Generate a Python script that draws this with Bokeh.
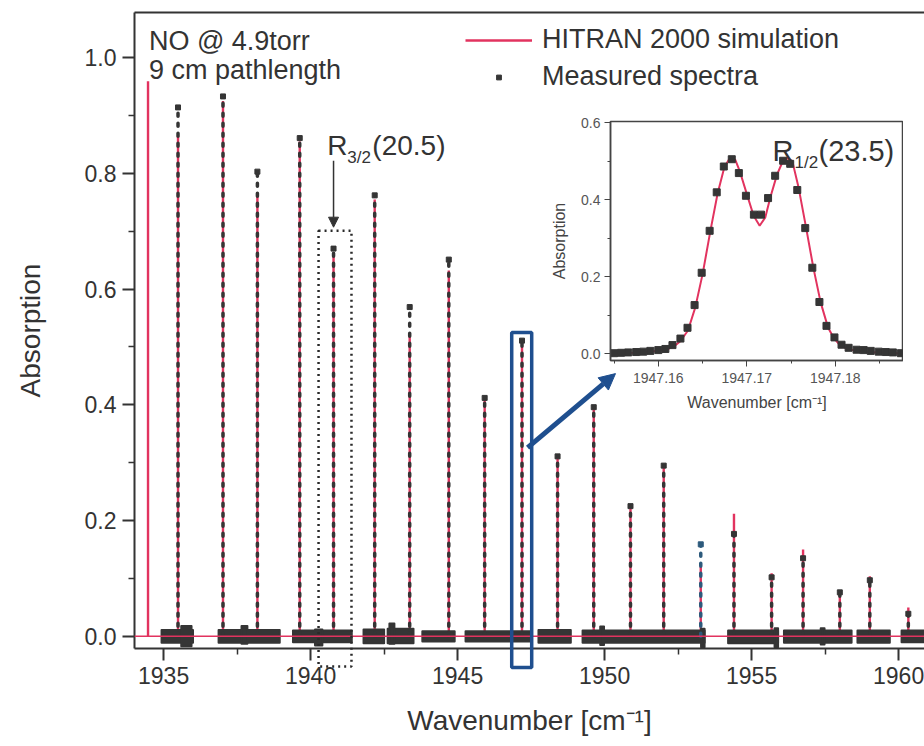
import math
from bokeh.plotting import figure
from bokeh.layouts import column
from bokeh.models import (Range1d, FixedTicker, LinearAxis, Span, BoxAnnotation, Arrow,
                          NormalHead, Label, Legend, LegendItem, ColumnDataSource)
from bokeh.embed import file_html
from bokeh.resources import INLINE

# ---------------- data ----------------
peak_pos = [1934.47, 1935.49, 1937.02, 1938.19, 1939.63, 1940.78, 1942.18, 1943.37,
            1944.70, 1945.92, 1947.19, 1948.40, 1949.63, 1950.88, 1952.01, 1953.27,
            1954.40, 1955.68, 1956.75, 1958.00, 1959.02, 1960.33]
sim_height = [0.959, 0.865, 0.925, 0.766, 0.855, 0.662, 0.755, 0.524, 0.632, 0.410,
              0.502, 0.308, 0.394, 0.224, 0.294, 0.120, 0.212, 0.109, 0.150, 0.070,
              0.104, 0.050]
meas_height = [float("nan"), 0.914, 0.933, 0.803, 0.861, 0.670, 0.762, 0.569, 0.651,
               0.412, 0.511, 0.311, 0.396, 0.225, 0.295, 0.159, 0.177, 0.102, 0.135,
               0.076, 0.097, 0.039]

noise_start = [1934.93, 1936.87, 1939.40, 1941.80, 1942.62, 1943.80, 1945.27, 1947.75,
               1949.25, 1954.20, 1956.10, 1958.60, 1960.10]
noise_end = [1936.00, 1938.95, 1941.40, 1942.50, 1943.50, 1944.90, 1947.50, 1948.85,
             1953.40, 1955.90, 1958.40, 1959.70, 1961.00]
noise_top = [0.011, 0.011, 0.010, 0.012, 0.013, 0.009, 0.009, 0.011, 0.010, 0.010,
             0.010, 0.010, 0.010]
noise_bottom = [-0.011, -0.011, -0.010, -0.012, -0.012, -0.009, -0.009, -0.011,
                -0.011, -0.012, -0.011, -0.011, -0.010]

bump_start = [1935.60, 1937.65, 1940.15, 1942.68, 1949.85, 1953.28, 1955.78, 1957.35]
bump_end = [1935.95, 1937.85, 1940.40, 1942.85, 1949.98, 1953.40, 1955.90, 1957.48]
bump_top = [0.018, 0.018, 0.012, 0.022, 0.017, 0.013, 0.014, 0.014]
bump_bottom = [-0.017, -0.013, -0.016, -0.013, -0.015, -0.019, -0.019, -0.014]

x_major = [1935, 1940, 1945, 1950, 1955, 1960]
x_minor = [1937.5, 1942.5, 1947.5, 1952.5, 1957.5]
x_labels = ["1935", "1940", "1945", "1950", "1955", "1960"]
y_major = [0.0, 0.2, 0.4, 0.6, 0.8, 1.0]
y_minor = [0.1, 0.3, 0.5, 0.7, 0.9]
y_labels = ["0.0", "0.2", "0.4", "0.6", "0.8", "1.0"]

# inset data
inset_meas_x = [1947.1550, 1947.1558, 1947.1566, 1947.1575, 1947.1583, 1947.1591,
                1947.1600, 1947.1608, 1947.1616, 1947.1625, 1947.1633, 1947.1641,
                1947.1649, 1947.1658, 1947.1666, 1947.1674, 1947.1683, 1947.1691,
                1947.1699, 1947.1708, 1947.1716, 1947.1724, 1947.1732, 1947.1741,
                1947.1749, 1947.1757, 1947.1766, 1947.1774, 1947.1782, 1947.1790,
                1947.1799, 1947.1807, 1947.1815, 1947.1824, 1947.1832, 1947.1840,
                1947.1849, 1947.1857, 1947.1865, 1947.1874]
inset_meas_y = [0.001, 0.002, 0.003, 0.004, 0.005, 0.007, 0.009, 0.012, 0.022, 0.039,
                0.067, 0.126, 0.210, 0.319, 0.419, 0.486, 0.505, 0.469, 0.410, 0.361,
                0.361, 0.404, 0.462, 0.501, 0.493, 0.425, 0.326, 0.223, 0.134, 0.072,
                0.042, 0.023, 0.015, 0.010, 0.009, 0.007, 0.005, 0.004, 0.003, 0.001]
inset_sim_x = [1947.15458, 1947.15721, 1947.15947, 1947.16098, 1947.16173, 1947.16249,
               1947.16335, 1947.16418, 1947.16501, 1947.16588, 1947.16670, 1947.16746,
               1947.16795, 1947.16832, 1947.16870, 1947.16919, 1947.17002, 1947.17077,
               1947.17145, 1947.17209, 1947.17266, 1947.17341, 1947.17409, 1947.17461,
               1947.17514, 1947.17586, 1947.17669, 1947.17751, 1947.17834, 1947.17917,
               1947.17981, 1947.18056, 1947.18169, 1947.18358, 1947.18546, 1947.18772]
inset_sim_y = [0.000, 0.002, 0.006, 0.011, 0.018, 0.032, 0.060, 0.120, 0.207, 0.318,
               0.416, 0.484, 0.503, 0.508, 0.503, 0.475, 0.413, 0.358, 0.332, 0.354,
               0.406, 0.465, 0.501, 0.508, 0.500, 0.430, 0.328, 0.224, 0.133, 0.068,
               0.041, 0.021, 0.010, 0.004, 0.002, 0.000]
inset_x_major = [1947.16, 1947.17, 1947.18]
inset_x_minor = [1947.155, 1947.165, 1947.175, 1947.185]
inset_x_labels = ["1947.16", "1947.17", "1947.18"]
inset_y_major = [0.0, 0.2, 0.4, 0.6]
inset_y_minor = [0.1, 0.3, 0.5]
inset_y_labels = ["0.0", "0.2", "0.4", "0.6"]

# ---------------- styles ----------------
PINK = "#e2335f"
DARK = "#353535"
BLUE = "#1f4f8f"
FONT = "Liberation Sans"
meas_colors = [DARK] * len(peak_pos)
meas_colors[15] = "#2d5a7c"

X_RANGE = Range1d(1934.01, 1960.88)
Y_TOP = 1.078
Y_BOTTOM = -0.021
MAIN_H, BORDER_TOP, BORDER_BOTTOM = 746, 12, 98

# ---------------- main figure ----------------
p = figure(width=924, height=MAIN_H, output_backend="svg", toolbar_location=None,
           x_range=X_RANGE, y_range=Range1d(Y_BOTTOM, Y_TOP),
           min_border_left=134, min_border_top=BORDER_TOP, min_border_bottom=BORDER_BOTTOM,
           min_border_right=0)
p.outline_line_color = None
p.grid.visible = False
p.background_fill_color = "white"

for ax in (p.xaxis[0], p.yaxis[0]):
    ax.axis_line_width = 2
    ax.axis_line_color = "#333333"
    ax.major_tick_line_color = "#333333"
    ax.major_tick_line_width = 2
    ax.minor_tick_line_color = "#333333"
    ax.minor_tick_line_width = 1.5
    ax.major_tick_in = 0
    ax.major_tick_out = 12
    ax.minor_tick_in = 0
    ax.minor_tick_out = 6
    ax.major_label_text_font = FONT
    ax.major_label_text_font_size = "23px"
    ax.major_label_text_color = "#333333"
    ax.axis_label_text_font = FONT
    ax.axis_label_text_font_size = "28px"
    ax.axis_label_text_font_style = "normal"
    ax.axis_label_text_color = "#333333"

p.xaxis[0].ticker = FixedTicker(ticks=x_major, minor_ticks=x_minor)
p.xaxis[0].major_label_overrides = dict(zip(x_major, x_labels))
p.xaxis[0].axis_label = "Wavenumber [cm⁻¹]"
p.xaxis[0].major_label_standoff = 6
p.xaxis[0].axis_label_standoff = 18
p.yaxis[0].ticker = FixedTicker(ticks=y_major, minor_ticks=y_minor)
p.yaxis[0].major_label_overrides = dict(zip(y_major, y_labels))
p.yaxis[0].axis_label = "Absorption"
p.yaxis[0].major_label_standoff = 6
p.yaxis[0].axis_label_standoff = 36

top_ax = LinearAxis(ticker=FixedTicker(ticks=[]), axis_line_width=2, axis_line_color="#333333",
                    major_tick_line_color=None, minor_tick_line_color=None)
p.add_layout(top_ax, "above")

# simulation zero line
p.add_layout(Span(location=0, dimension="width", line_color=PINK, line_width=1.5))

zeros = [0.0] * len(peak_pos)
sim_src = ColumnDataSource(dict(x=peak_pos, y0=zeros, y1=sim_height))
sim_r = p.segment(x0="x", y0="y0", x1="x", y1="y1", source=sim_src, line_color=PINK,
                  line_width=2.4)

# measured noise band
p.quad(left=noise_start, right=noise_end, top=noise_top, bottom=noise_bottom,
       fill_color=DARK, line_color=DARK, line_width=2, line_join="round")
p.quad(left=bump_start, right=bump_end, top=bump_top, bottom=bump_bottom,
       fill_color=DARK, line_color=DARK, line_width=2, line_join="round")

ok = [not math.isnan(h) for h in meas_height]
meas_src = ColumnDataSource(dict(x=[x for x, k in zip(peak_pos, ok) if k],
                                 y0=[0.0 for k in ok if k],
                                 y1=[h for h, k in zip(meas_height, ok) if k],
                                 c=[c for c, k in zip(meas_colors, ok) if k]))
p.segment(x0="x", y0="y0", x1="x", y1="y1", source=meas_src, line_color="c",
          line_width=3.5, line_dash="3 7", line_cap="round")
meas_r = p.scatter(x="x", y="y1", source=meas_src, marker="square", size=5,
                   fill_color="c", line_color="c")

legend = Legend(items=[LegendItem(label="HITRAN 2000 simulation", renderers=[sim_r]),
                       LegendItem(label="Measured spectra", renderers=[meas_r])],
                location=(331, 556), orientation="vertical", background_fill_alpha=0,
                border_line_color=None, padding=0, margin=0, spacing=6,
                glyph_width=67, glyph_height=12, label_height=31, label_standoff=10,
                label_text_font=FONT, label_text_font_size="27px", label_text_color="#333333")
p.add_layout(legend)

# annotations
p.add_layout(Label(x=1934.50, y=1.028, text="NO @ 4.9torr", text_font=FONT,
                   text_font_size="27px", text_color="#333333", text_baseline="alphabetic"))
p.add_layout(Label(x=1934.50, y=0.978, text="9 cm pathlength", text_font=FONT,
                   text_font_size="27px", text_color="#333333", text_baseline="alphabetic"))

p.add_layout(Label(x=1940.57, y=0.848, text="R", text_font=FONT, text_font_size="28px",
                   text_color="#333333", text_baseline="alphabetic"))
p.add_layout(Label(x=1940.57, y=0.848, x_offset=20, y_offset=-12, text="3/2", text_font=FONT,
                   text_font_size="17px", text_color="#333333", text_baseline="alphabetic"))
p.add_layout(Label(x=1940.57, y=0.848, x_offset=45, text="(20.5)", text_font=FONT,
                   text_font_size="28px", text_color="#333333", text_baseline="alphabetic"))

# ---------------- overlay (same data scale, taller frame so boxes may pass the axis) --------
OVER_H = 690
px_per_unit = (MAIN_H - BORDER_TOP - BORDER_BOTTOM) / (Y_TOP - Y_BOTTOM)
over = figure(width=924, height=OVER_H, output_backend="svg", toolbar_location=None,
              x_range=X_RANGE,
              y_range=Range1d(Y_TOP - (OVER_H - BORDER_TOP) / px_per_unit, Y_TOP),
              min_border_left=134, min_border_top=BORDER_TOP, min_border_bottom=0,
              min_border_right=0, x_axis_location=None, y_axis_location=None,
              styles={"position": "absolute", "left": "0px", "top": "0px"})
over.background_fill_alpha = 0
over.border_fill_alpha = 0
over.outline_line_color = None
over.grid.visible = False

over.add_layout(Arrow(x_start=1940.78, y_start=0.822, x_end=1940.78, y_end=0.707,
                      line_color="#333333", line_width=1.5,
                      end=NormalHead(size=10, fill_color="#333333", line_color="#333333")))
over.add_layout(BoxAnnotation(left=1940.27, right=1941.39, bottom=-0.052, top=0.701,
                              fill_alpha=0, line_alpha=1, line_color="#2a2a2a", line_width=2.5,
                              line_dash="2 4"))
over.add_layout(BoxAnnotation(left=1946.84, right=1947.52, bottom=-0.054, top=0.525,
                              fill_alpha=0, line_alpha=1, line_color=BLUE, line_width=3.5))
over.add_layout(Arrow(x_start=1947.38, y_start=0.326, x_end=1950.37, y_end=0.454,
                      line_color=BLUE, line_width=5,
                      end=NormalHead(size=16, fill_color=BLUE, line_color=BLUE)))

# ---------------- inset figure ----------------
# (left border equals the main one: the column aligns the plot borders)
ins = figure(width=427, height=310, output_backend="svg", toolbar_location=None,
             x_range=Range1d(1947.1546, 1947.1877), y_range=Range1d(-0.018, 0.603),
             min_border_left=134, min_border_top=11, min_border_right=0, min_border_bottom=60,
             styles={"position": "absolute", "left": "476px", "top": "110px"})
ins.background_fill_alpha = 0
ins.border_fill_alpha = 0
ins.outline_line_color = "#444444"
ins.outline_line_width = 1.5
ins.grid.visible = False
for ax in (ins.xaxis[0], ins.yaxis[0]):
    ax.axis_line_color = "#444444"
    ax.axis_line_width = 1.5
    ax.major_tick_line_color = "#444444"
    ax.minor_tick_line_color = "#444444"
    ax.major_tick_in = 0
    ax.major_tick_out = 6
    ax.minor_tick_in = 0
    ax.minor_tick_out = 3
    ax.major_label_text_font = FONT
    ax.major_label_text_font_size = "14px"
    ax.major_label_text_color = "#555555"
    ax.axis_label_text_font = FONT
    ax.axis_label_text_font_size = "16px"
    ax.axis_label_text_font_style = "normal"
    ax.axis_label_text_color = "#444444"
ins.xaxis[0].ticker = FixedTicker(ticks=inset_x_major, minor_ticks=inset_x_minor)
ins.xaxis[0].major_label_overrides = dict(zip(inset_x_major, inset_x_labels))
ins.xaxis[0].axis_label = "Wavenumber [cm⁻¹]"
ins.xaxis[0].major_label_standoff = 6
ins.xaxis[0].axis_label_standoff = 8
ins.yaxis[0].ticker = FixedTicker(ticks=inset_y_major, minor_ticks=inset_y_minor)
ins.yaxis[0].major_label_overrides = dict(zip(inset_y_major, inset_y_labels))
ins.yaxis[0].axis_label = "Absorption"
ins.yaxis[0].major_label_standoff = 4
ins.yaxis[0].axis_label_standoff = 10

ins.line(inset_sim_x, inset_sim_y, line_color=PINK, line_width=2)
ins.scatter(inset_meas_x, inset_meas_y, marker="square", size=7, fill_color=DARK,
            line_color=DARK)

ins.add_layout(Label(x=1947.1729, y=0.527, text="R", text_font=FONT, text_font_size="29px",
                     text_color="#333333", text_baseline="alphabetic"))
ins.add_layout(Label(x=1947.1729, y=0.527, x_offset=22, y_offset=-12, text="1/2",
                     text_font=FONT, text_font_size="17px", text_color="#333333",
                     text_baseline="alphabetic"))
ins.add_layout(Label(x=1947.1729, y=0.527, x_offset=46, text="(23.5)", text_font=FONT,
                     text_font_size="29px", text_color="#333333", text_baseline="alphabetic"))

layout = column(p, over, ins, styles={"position": "relative"})
open("out.html", "w").write(file_html(layout, INLINE))
